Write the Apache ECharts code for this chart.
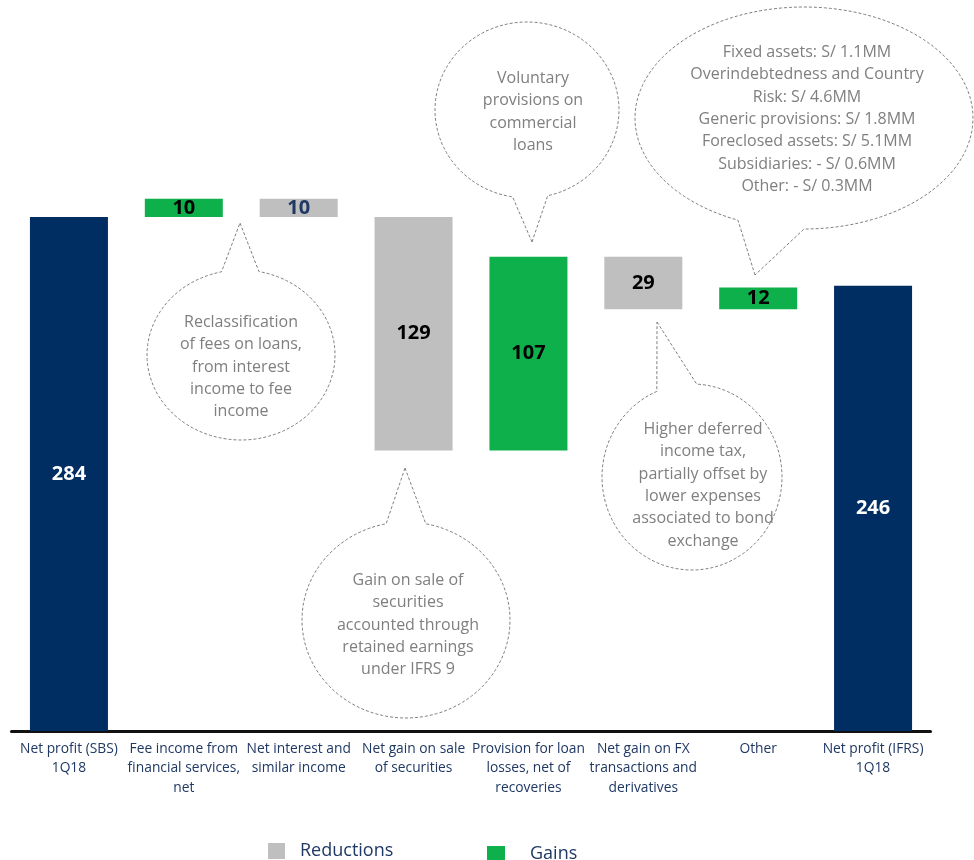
<!DOCTYPE html>
<html>
<head>
<meta charset="utf-8">
<script src="https://cdn.jsdelivr.net/npm/echarts@6/dist/echarts.min.js"></script>
<style>
  html, body { margin: 0; padding: 0; background: #fff; }
  #chart { width: 974px; height: 860px; }
</style>
</head>
<body>
<div id="chart"></div>
<script>
// Bridge from SBS net profit to IFRS net profit, 1Q18 (S/ MM)
const categories = [
  'Net profit (SBS)\n1Q18',
  'Fee income from\nfinancial services,\nnet',
  'Net interest and\nsimilar income',
  'Net gain on sale\nof securities',
  'Provision for loan\nlosses, net of\nrecoveries',
  'Net gain on FX\ntransactions and\nderivatives',
  'Other',
  'Net profit (IFRS)\n1Q18'
];
const totals     = [284, null, null, null, null, null, null, 246];
const gains      = [null, 10, null, null, 107, null, 12, null];
const reductions = [null, null, 10, 129, null, 29, null, null];

const NAVY = '#002D62';
const GREEN = '#0DB04B';
const GREY = '#BFBFBF';
const TEXT_NAVY = '#1F3864';
const NOTE_GREY = '#7F7F7F';
const FONT = '"Open Sans", "Liberation Sans", sans-serif';

// invisible base under each floating step
const base = [];
let running = 0;
categories.forEach((c, i) => {
  if (totals[i] != null) { running = totals[i]; base.push(0); }
  else if (gains[i] != null) { base.push(running); running += gains[i]; }
  else { running -= reductions[i]; base.push(running); }
});

const chart = echarts.init(document.getElementById('chart'));

// speech-bubble outline: ellipse with a pointed tail between angles a1..a2 (deg)
function bubble(cx, cy, rx, ry, a1, a2, tipX, tipY) {
  const pts = [[tipX, tipY]];
  const end = a1 + 360;
  for (let a = a2; a <= end + 0.001; a += 2) {
    const t = Math.min(a, end) * Math.PI / 180;
    pts.push([cx + rx * Math.cos(t), cy + ry * Math.sin(t)]);
  }
  const t = end * Math.PI / 180;
  pts.push([cx + rx * Math.cos(t), cy + ry * Math.sin(t)]);
  return {
    type: 'polygon',
    shape: { points: pts },
    style: { fill: 'none', stroke: NOTE_GREY, lineWidth: 1, lineDash: [3, 2] },
    z: 10
  };
}
function note(x, y, text) {
  return {
    type: 'text',
    x: x, y: y,
    style: {
      text: text, fill: NOTE_GREY, font: '16px ' + FONT,
      align: 'center', verticalAlign: 'top', lineHeight: 22.4
    },
    z: 11
  };
}

const valueLabel = {
  show: true, position: 'inside', color: '#000',
  fontFamily: FONT, fontWeight: 'bold', fontSize: 20
};
const legendText = { fontFamily: FONT, fontSize: 18, color: TEXT_NAVY };

chart.setOption({
  animation: false,
  backgroundColor: '#fff',
  grid: { left: 11.5, right: 43.5, top: 188, bottom: 129 },
  legend: [
    {
      left: 263, top: 837, itemWidth: 17, itemHeight: 16, icon: 'rect',
      data: ['Reductions'],
      textStyle: Object.assign({ padding: [0, 0, 0, 10] }, legendText)
    },
    {
      left: 482, top: 840, itemWidth: 18, itemHeight: 16, icon: 'rect',
      data: ['Gains'],
      textStyle: Object.assign({ padding: [0, 0, 0, 20] }, legendText)
    }
  ],
  xAxis: {
    type: 'category',
    data: categories,
    axisLine: { lineStyle: { color: '#111', width: 3 } },
    axisTick: { show: false },
    axisLabel: {
      interval: 0, margin: 8, color: TEXT_NAVY,
      fontFamily: FONT, fontSize: 13.8, lineHeight: 19.5
    }
  },
  yAxis: { type: 'value', min: 0, max: 300, show: false, splitLine: { show: false } },
  series: [
    {
      name: 'base', type: 'bar', stack: 'w', barWidth: 78, silent: true,
      itemStyle: { color: 'transparent' }, data: base
    },
    {
      name: 'Reductions', type: 'bar', stack: 'w', barWidth: 78,
      itemStyle: { color: GREY },
      label: valueLabel,
      data: reductions.map((v, i) =>
        v == null ? '-' : (i === 2 ? { value: v, label: { color: TEXT_NAVY } } : v))
    },
    {
      name: 'Gains', type: 'bar', stack: 'w', barWidth: 78,
      itemStyle: { color: GREEN },
      label: valueLabel,
      data: gains.map(v => v == null ? '-' : v)
    },
    {
      name: 'Net profit', type: 'bar', stack: 'w', barWidth: 78,
      itemStyle: { color: NAVY },
      label: Object.assign({}, valueLabel, { color: '#fff' }),
      data: totals.map(v => v == null ? '-' : v)
    }
  ],
  graphic: [
    bubble(804, 118, 169, 111, 90, 113, 755, 275),
    note(807, 41, 'Fixed assets: S/ 1.1MM\nOverindebtedness and Country\nRisk: S/ 4.6MM\nGeneric provisions: S/ 1.8MM\nForeclosed assets: S/ 5.1MM\nSubsidiaries: - S/ 0.6MM\nOther: - S/ 0.3MM'),
    bubble(527, 110, 92, 88, 77, 99, 532, 242),
    note(533, 67, 'Voluntary\nprovisions on\ncommercial\nloans'),
    bubble(241, 355, 94, 85, 258, 281, 240, 223),
    note(241, 311, 'Reclassification\nof fees on loans,\nfrom interest\nincome to fee\nincome'),
    bubble(406, 620, 104, 98, 259, 281, 405, 468),
    note(408, 569, 'Gain on sale of\nsecurities\naccounted through\nretained earnings\nunder IFRS 9'),
    bubble(692, 477, 90, 93, 247, 273, 657, 322),
    note(703, 418, 'Higher deferred\nincome tax,\npartially offset by\nlower expenses\nassociated to bond\nexchange')
  ]
});
</script>
</body>
</html>
